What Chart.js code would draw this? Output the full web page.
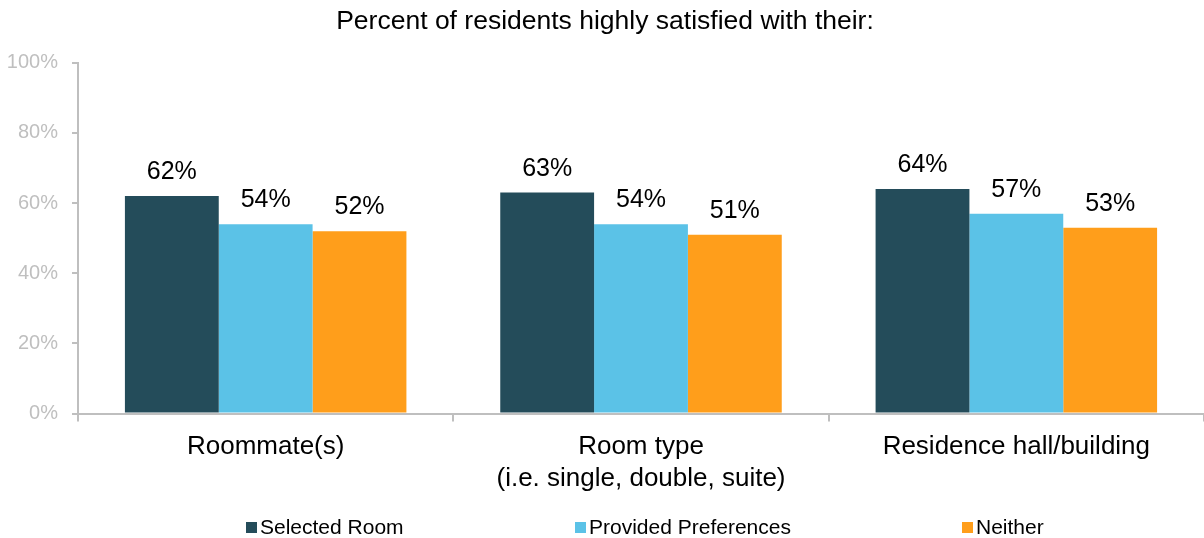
<!DOCTYPE html>
<html>
<head>
<meta charset="utf-8">
<script src="https://cdn.jsdelivr.net/npm/chart.js@4"></script>
<style>
  html, body { margin: 0; padding: 0; background: #fff; }
  #wrap { width: 1204px; height: 538px; }
</style>
</head>
<body>
<div id="wrap"><canvas id="satisfactionChart"></canvas></div>
<script>
const categories = [
  ['Roommate(s)'],
  ['Room type', '(i.e. single, double, suite)'],
  ['Residence hall/building']
];
const selectedRoom = [62, 63, 64];
const providedPreferences = [54, 54, 57];
const neither = [52, 51, 53];
const yTicks = [0, 20, 40, 60, 80, 100];

const FONT = "'Liberation Sans', Arial, sans-serif";
const AXIS_GREY = '#bfbfbf';

// value labels over each bar
const valueLabels = {
  id: 'valueLabels',
  afterDatasetsDraw(chart) {
    const ctx = chart.ctx;
    ctx.save();
    ctx.font = '25px ' + FONT;
    ctx.fillStyle = '#000';
    ctx.textAlign = 'center';
    ctx.textBaseline = 'alphabetic';
    chart.data.datasets.forEach((ds, i) => {
      chart.getDatasetMeta(i).data.forEach((bar, j) => {
        ctx.fillText(ds.data[j] + '%', bar.x, bar.y - 17);
      });
    });
    ctx.restore();
  }
};

// spaced-out legend along the bottom
const bottomLegend = {
  id: 'bottomLegend',
  afterDraw(chart) {
    const ctx = chart.ctx;
    const starts = [246, 575, 962];
    const y = 527.5;
    ctx.save();
    ctx.font = '21px ' + FONT;
    ctx.textBaseline = 'middle';
    ctx.textAlign = 'left';
    chart.data.datasets.forEach((ds, i) => {
      const x = starts[i];
      ctx.fillStyle = ds.backgroundColor;
      ctx.fillRect(x, y - 5.5, 11, 11);
      ctx.fillStyle = '#000';
      ctx.fillText(ds.label, x + 14, y + 1);
    });
    ctx.restore();
  }
};

new Chart(document.getElementById('satisfactionChart'), {
  type: 'bar',
  data: {
    labels: categories,
    datasets: [
      { label: 'Selected Room', data: selectedRoom, backgroundColor: '#244c5a' },
      { label: 'Provided Preferences', data: providedPreferences, backgroundColor: '#5bc2e7' },
      { label: 'Neither', data: neither, backgroundColor: '#ff9e1b' }
    ]
  },
  options: {
    responsive: true,
    maintainAspectRatio: false,
    animation: false,
    categoryPercentage: 0.75,
    barPercentage: 1.0,
    layout: { padding: { left: 6, right: 0, top: 0, bottom: 34 } },
    plugins: {
      legend: { display: false },
      tooltip: { enabled: false },
      title: {
        display: true,
        text: 'Percent of residents highly satisfied with their:',
        color: '#000',
        font: { family: FONT, size: 26.5, weight: 'normal' },
        padding: { top: 6, bottom: 25 }
      }
    },
    scales: {
      x: {
        grid: {
          offset: true,
          drawOnChartArea: false,
          color: AXIS_GREY,
          lineWidth: 2,
          tickLength: 8
        },
        border: { color: AXIS_GREY, width: 2 },
        ticks: {
          color: '#000',
          padding: 10,
          font: { family: FONT, size: 26, lineHeight: 1.2 }
        }
      },
      y: {
        min: 0,
        max: 100,
        afterBuildTicks(scale) {
          scale.ticks = yTicks.map(v => ({ value: v }));
        },
        // fixed width so the axis line sits at x = 78
        afterFit(scale) {
          scale.width = 72;
        },
        grid: {
          drawOnChartArea: false,
          color: AXIS_GREY,
          lineWidth: 2,
          tickLength: 6
        },
        border: { color: AXIS_GREY, width: 2 },
        ticks: {
          color: AXIS_GREY,
          padding: 14,
          font: { family: FONT, size: 20 },
          callback: v => v + '%'
        }
      }
    }
  },
  plugins: [valueLabels, bottomLegend]
});
</script>
</body>
</html>
